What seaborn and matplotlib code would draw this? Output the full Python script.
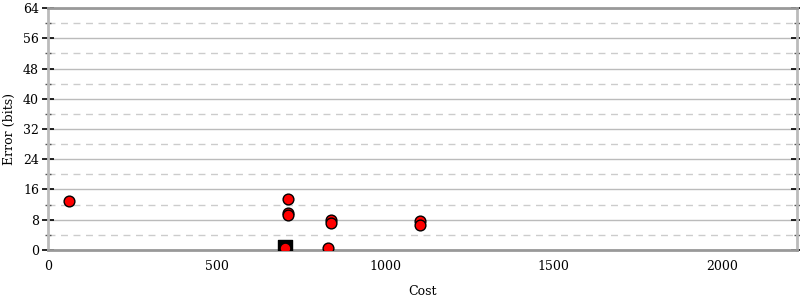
import matplotlib
matplotlib.use("Agg")
import matplotlib.pyplot as plt
import seaborn as sns
import pandas as pd
from matplotlib.ticker import MultipleLocator

# data
cost = [62, 713, 713, 713, 840, 840, 831, 1103, 1103, 704]
error = [13.0, 13.5, 9.8, 9.3, 7.8, 7.1, 0.6, 7.7, 6.6, 0.5]
best_cost = [704]
best_error = [0.9]

sns.set_style("white")
plt.rcParams['font.family'] = ['DejaVu Serif']
plt.rcParams['text.color'] = 'black'
plt.rcParams['axes.labelcolor'] = 'black'
plt.rcParams['xtick.labelcolor'] = 'black'
plt.rcParams['ytick.labelcolor'] = 'black'

fig = plt.figure(figsize=(8, 3), dpi=100)
ax = fig.add_axes([0.06, 0.1667, 0.936, 0.8066])

df = pd.DataFrame({"cost": cost, "error": error})
dfb = pd.DataFrame({"cost": best_cost, "error": best_error})

sns.scatterplot(data=dfb, x="cost", y="error", marker="s", s=95, color="black",
                edgecolor="black", linewidth=1, ax=ax, zorder=3)
sns.scatterplot(data=df, x="cost", y="error", marker="o", s=60, color="#ff0000",
                edgecolor="black", linewidth=1, ax=ax, zorder=4)

ax.set_xlim(0, 2222)
ax.set_ylim(0, 64)
ax.yaxis.set_major_locator(MultipleLocator(8))
ax.yaxis.set_minor_locator(MultipleLocator(4))
ax.xaxis.set_major_locator(MultipleLocator(500))
ax.xaxis.set_minor_locator(MultipleLocator(250))

ax.grid(True, which="major", axis="y", color="#bbbbbb", linewidth=1, linestyle="-")
ax.grid(True, which="minor", axis="y", color="#cccccc", linewidth=1, linestyle=(0, (5, 4)))
ax.set_axisbelow(True)

for side in ["left", "right"]:
    ax.spines[side].set_color("#bbbbbb")
    ax.spines[side].set_linewidth(2)
for side in ["top", "bottom"]:
    ax.spines[side].set_color("#999999")
    ax.spines[side].set_linewidth(2)

ax.tick_params(axis="y", which="major", direction="inout", length=9, width=1.2,
               color="black", labelsize=9, labelcolor="black", right=True, left=True, pad=2)
ax.tick_params(axis="y", which="minor", direction="inout", length=5, width=1,
               color="#555555", right=True, left=True)
ax.tick_params(axis="x", which="major", direction="inout", length=9, width=1.2,
               color="#333333", labelsize=9, labelcolor="black", pad=3)
ax.tick_params(axis="x", which="minor", direction="in", length=5, width=1,
               color="#555555")

ax.set_xlabel("Cost", fontsize=9, labelpad=8, color="black")
ax.set_ylabel("Error (bits)", fontsize=9, labelpad=5, color="black")

fig.savefig("out.png", dpi=100)
